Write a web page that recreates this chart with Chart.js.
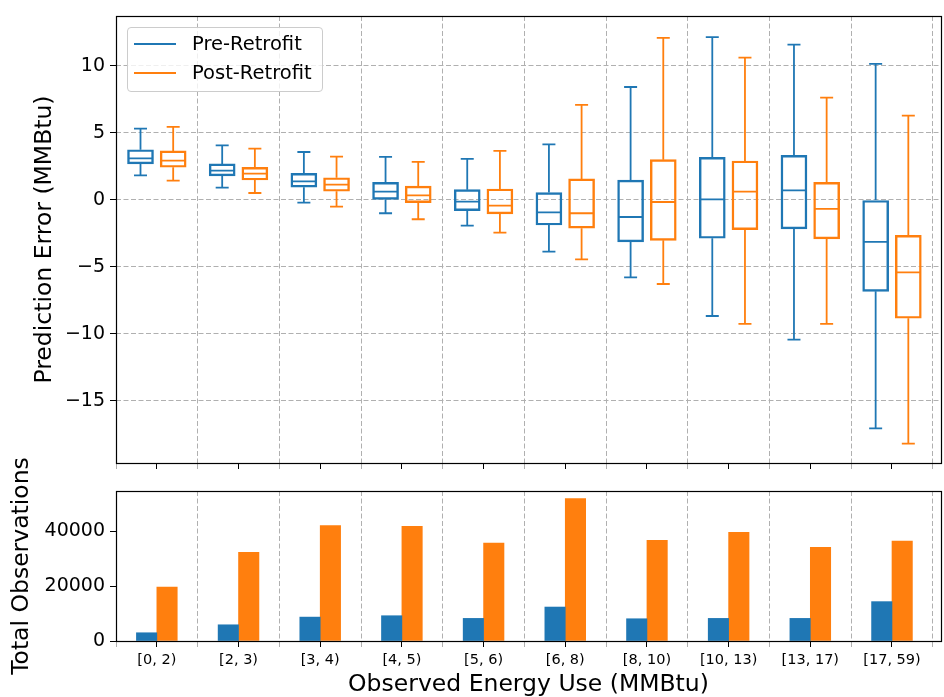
<!DOCTYPE html>
<html>
<head>
<meta charset="utf-8">
<script src="https://cdn.jsdelivr.net/npm/chart.js@4.4.0/dist/chart.umd.min.js"></script>
<style>
    html, body { margin: 0; padding: 0; background: #fff; }
    #wrap { position: relative; width: 944px; height: 697px; font-family: "DejaVu Sans", sans-serif; }
    #top-chart { position: absolute; left: 0; top: 0; }
    #bottom-chart { position: absolute; left: 0; top: 440px; }
    #legend {
        position: absolute; left: 127px; top: 27px; width: 194px; height: 63px;
        border: 1px solid #cccccc; border-radius: 4px; background: rgba(255, 255, 255, 0.8);
        font-size: 19.5px; color: #000;
    }
    #legend .sw { position: absolute; left: 6px; width: 42px; height: 2px; }
    #legend .lbl { position: absolute; left: 64px; line-height: 22px; }
</style>
</head>
<body>
<div id="wrap">
    <canvas id="top-chart" width="944" height="470"></canvas>
    <canvas id="bottom-chart" width="944" height="257"></canvas>
    <div id="legend">
        <div class="sw" style="top:15px;background:#1f77b4"></div>
        <div class="lbl" style="top:5px">Pre-Retrofit</div>
        <div class="sw" style="top:44px;background:#ff7f0e"></div>
        <div class="lbl" style="top:34px">Post-Retrofit</div>
    </div>
</div>
<script>
const categories = ['[0, 2)', '[2, 3)', '[3, 4)', '[4, 5)', '[5, 6)', '[6, 8)', '[8, 10)', '[10, 13)', '[13, 17)', '[17, 59)'];

// boxplot stats (MMBtu)
const preLow    = [1.84, 0.92, -0.20, -0.99, -1.91, -3.86, -5.77, -8.66, -10.42, -17.04];
const preQ1     = [2.69, 1.79, 0.95, 0.05, -0.80, -1.87, -3.13, -2.86, -2.16, -6.82];
const preMedian = [3.11, 2.19, 1.39, 0.62, -0.12, -0.92, -1.27, 0.05, 0.72, -3.13];
const preQ3     = [3.75, 2.69, 1.99, 1.32, 0.77, 0.55, 1.49, 3.18, 3.33, 0.00];
const preHigh   = [5.32, 4.08, 3.58, 3.21, 3.06, 4.15, 8.43, 12.16, 11.59, 10.15];

const postLow    = [1.44, 0.52, -0.50, -1.44, -2.44, -4.43, -6.27, -9.25, -9.25, -18.18];
const postQ1     = [2.44, 1.49, 0.65, -0.20, -1.04, -2.11, -3.01, -2.21, -2.91, -8.83];
const postMedian = [2.94, 1.97, 1.14, 0.35, -0.42, -0.99, -0.15, 0.62, -0.67, -5.40];
const postQ3     = [3.66, 2.44, 1.66, 1.04, 0.82, 1.57, 3.01, 2.91, 1.32, -2.64];
const postHigh   = [5.45, 3.83, 3.23, 2.84, 3.66, 7.09, 12.09, 10.62, 7.64, 6.29];

// observation counts
const preCount  = [3000, 5900, 8700, 9200, 8230, 12360, 8100, 8230, 8230, 14330];
const postCount = [19670, 32250, 42000, 41750, 35650, 51850, 36640, 39560, 34080, 36380];

const errorTicks = [-15, -10, -5, 0, 5, 10];
const countTicks = [0, 20000, 40000];

const BLUE = '#1f77b4';
const ORANGE = '#ff7f0e';
const GRID = '#b0b0b0';

Chart.defaults.font.family = "'DejaVu Sans', sans-serif";
Chart.defaults.color = '#000';

document.addEventListener('DOMContentLoaded', () => {
    drawErrorChart();
    drawCountChart();
});

// gridlines sit between categories, tick marks on the categories
function halfStepTicks(scale) {
    const ticks = [];
    for (let k = -1; k <= 19; k++) ticks.push({ value: k / 2 });
    scale.ticks = ticks;
}

function isCenter(c) {
    return c.tick && Number.isInteger(c.tick.value);
}

function xAxis(extra) {
    return Object.assign({
        type: 'linear',
        min: -0.5,
        max: 9.6,
        offset: false,
        afterBuildTicks: halfStepTicks,
        grid: {
            offset: false,
            color: c => isCenter(c) ? 'rgba(0,0,0,0)' : GRID,
            tickColor: c => isCenter(c) ? '#000' : GRID,
            tickLength: 6,
            lineWidth: 1
        },
        border: { display: false, dash: [5, 2.5] }
    }, extra);
}

// fixed axis width, no extra label padding pushing the plot area around
function fixedWidth(s) {
    s.width = 116;
    s.paddingTop = 0;
    s.paddingBottom = 0;
}

const framePlugin = {
    id: 'frame',
    afterDraw(chart) {
        const { ctx, chartArea: a } = chart;
        ctx.save();
        ctx.strokeStyle = '#000';
        ctx.lineWidth = 1.2;
        ctx.strokeRect(Math.round(a.left) + 0.5, Math.round(a.top) + 0.5,
            Math.round(a.right - a.left), Math.round(a.bottom - a.top));
        ctx.restore();
    }
};

// whiskers, caps and medians on top of the floating-bar boxes
const whiskerPlugin = {
    id: 'whiskers',
    afterDatasetsDraw(chart) {
        const ctx = chart.ctx;
        const y = chart.scales.y;
        chart.data.datasets.forEach((ds, d) => {
            const meta = chart.getDatasetMeta(d);
            ctx.save();
            ctx.strokeStyle = ds.borderColor;
            ctx.lineWidth = 1.8;
            meta.data.forEach((bar, i) => {
                const half = bar.width / 2;
                const yHi = y.getPixelForValue(ds.high[i]);
                const yLo = y.getPixelForValue(ds.low[i]);
                const yQ1 = y.getPixelForValue(ds.q1[i]);
                const yQ3 = y.getPixelForValue(ds.q3[i]);
                const yMed = y.getPixelForValue(ds.median[i]);
                ctx.beginPath();
                ctx.moveTo(bar.x, yQ3); ctx.lineTo(bar.x, yHi);
                ctx.moveTo(bar.x - half / 2, yHi); ctx.lineTo(bar.x + half / 2, yHi);
                ctx.moveTo(bar.x, yQ1); ctx.lineTo(bar.x, yLo);
                ctx.moveTo(bar.x - half / 2, yLo); ctx.lineTo(bar.x + half / 2, yLo);
                ctx.moveTo(bar.x - half + 1, yMed); ctx.lineTo(bar.x + half - 1, yMed);
                ctx.stroke();
            });
            ctx.restore();
        });
    }
};

function boxDataset(label, color, shift, low, q1, median, q3, high) {
    return {
        label: label,
        data: q1.map((v, i) => ({ x: i + shift, y: [v, q3[i]] })),
        low: low, q1: q1, median: median, q3: q3, high: high,
        backgroundColor: 'rgba(0,0,0,0)',
        borderColor: color,
        borderWidth: 1.8,
        borderSkipped: false,
        barThickness: 26,
        grouped: false
    };
}

function drawErrorChart() {
    const ctx = document.getElementById('top-chart').getContext('2d');
    new Chart(ctx, {
        type: 'bar',
        data: {
            datasets: [
                boxDataset('Pre-Retrofit', BLUE, -0.2, preLow, preQ1, preMedian, preQ3, preHigh),
                boxDataset('Post-Retrofit', ORANGE, 0.2, postLow, postQ1, postMedian, postQ3, postHigh)
            ]
        },
        options: {
            responsive: false,
            animation: false,
            layout: { padding: { top: 16, right: 3, left: 0, bottom: 0 } },
            plugins: { legend: { display: false }, tooltip: { enabled: false } },
            scales: {
                x: xAxis({
                    ticks: { display: false },
                    afterFit: s => { s.height = 7; s.paddingLeft = 0; s.paddingRight = 0; }
                }),
                y: {
                    type: 'linear',
                    min: -19.63,
                    max: 13.73,
                    afterBuildTicks: s => { s.ticks = errorTicks.map(v => ({ value: v })); },
                    afterFit: fixedWidth,
                    ticks: {
                        font: { size: 19 },
                        padding: 5,
                        callback: v => v < 0 ? '\u2212' + Math.abs(v) : String(v)
                    },
                    grid: { color: GRID, tickColor: '#000', tickLength: 6, lineWidth: 1 },
                    border: { display: false, dash: [5, 2.5] },
                    title: {
                        display: true,
                        text: 'Prediction Error (MMBtu)',
                        font: { size: 23.5 },
                        padding: { top: 31, bottom: 0 }
                    }
                }
            }
        },
        plugins: [whiskerPlugin, framePlugin]
    });
}

function drawCountChart() {
    const ctx = document.getElementById('bottom-chart').getContext('2d');
    new Chart(ctx, {
        type: 'bar',
        data: {
            datasets: [{
                label: 'Pre-Retrofit',
                data: preCount.map((v, i) => ({ x: i - 0.125, y: v })),
                backgroundColor: BLUE,
                barThickness: 20.4,
                grouped: false
            }, {
                label: 'Post-Retrofit',
                data: postCount.map((v, i) => ({ x: i + 0.125, y: v })),
                backgroundColor: ORANGE,
                barThickness: 20.4,
                grouped: false
            }]
        },
        options: {
            responsive: false,
            animation: false,
            layout: { padding: { top: 51, right: 3, left: 0, bottom: 0 } },
            plugins: { legend: { display: false }, tooltip: { enabled: false } },
            scales: {
                x: xAxis({
                    afterFit: s => { s.height = 56; s.paddingLeft = 0; s.paddingRight = 0; },
                    ticks: {
                        font: { size: 14.5 },
                        padding: 5,
                        autoSkip: false,
                        maxRotation: 0,
                        minRotation: 0,
                        callback: v => Number.isInteger(v) ? categories[v] : ''
                    },
                    title: {
                        display: true,
                        text: 'Observed Energy Use (MMBtu)',
                        font: { size: 23.5 },
                        padding: { top: 0, bottom: -2 }
                    }
                }),
                y: {
                    type: 'linear',
                    min: 0,
                    max: 54600,
                    afterBuildTicks: s => { s.ticks = countTicks.map(v => ({ value: v })); },
                    afterFit: fixedWidth,
                    ticks: { font: { size: 19 }, padding: 5, callback: v => String(v) },
                    grid: { drawOnChartArea: false, tickColor: '#000', tickLength: 6 },
                    border: { display: false },
                    title: {
                        display: true,
                        text: 'Total Observations',
                        font: { size: 23.5 },
                        padding: { top: 8, bottom: 0 }
                    }
                }
            }
        },
        plugins: [framePlugin]
    });
}
</script>
</body>
</html>
